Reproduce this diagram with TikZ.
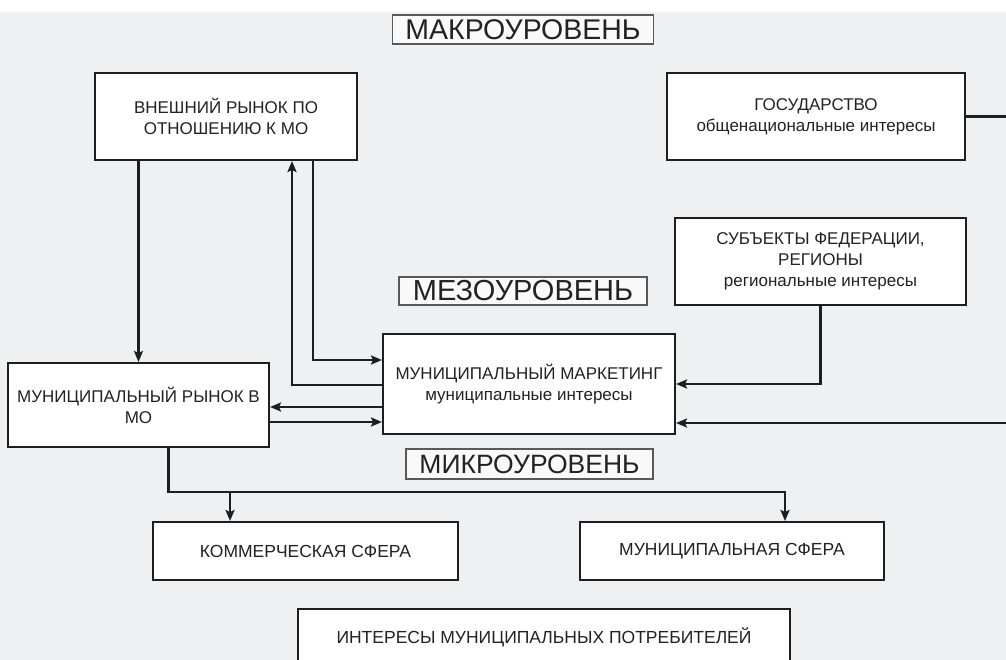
\documentclass[tikz,border=0pt]{standalone}
\usepackage{fontspec}
\setmainfont{Liberation Sans}
\usepackage{xcolor}
\usetikzlibrary{arrows.meta}
\definecolor{fon}{HTML}{EFF0F2}
\definecolor{tekst}{HTML}{222222}
\definecolor{linia}{HTML}{1E1E1E}

\begin{document}
\begin{tikzpicture}[x=1pt,y=-1pt,>={Stealth[length=11pt,width=9pt,inset=2pt]},
mbox/.style={draw=linia,line width=2pt,fill=white,text=tekst,align=center,font=\fontsize{17}{21}\selectfont,inner sep=0pt},
lvl/.style={draw=gray!70!black,line width=1.8pt,fill=gray!5,text=tekst,inner sep=0pt},
con/.style={linia,line width=2.2pt}]
\useasboundingbox(0,0)rectangle(1006,660);
\clip(0,0)rectangle(1006,660);
\fill[fon](0,12)rectangle(1006,660);
\node[lvl,font=\fontsize{28.5}{28}\selectfont,minimum width=261pt,minimum height=29pt](makro)at(523,29.5){МАКРОУРОВЕНЬ};
\node[mbox,minimum width=262pt,minimum height=87pt](vnesh)at(226,116.5){ВНЕШНИЙ РЫНОК ПО\\ОТНОШЕНИЮ К МО};
\node[mbox,minimum width=298pt,minimum height=87pt](gos)at(816,116.5){ГОСУДАРСТВО\\общенациональные интересы};
\node[mbox,minimum width=291pt,minimum height=87pt](subj)at(820.5,261.5){СУБЪЕКТЫ ФЕДЕРАЦИИ,\\РЕГИОНЫ\\региональные интересы};
\node[lvl,font=\fontsize{29}{28}\selectfont,minimum width=248pt,minimum height=28pt](mezo)at(523,291){МЕЗОУРОВЕНЬ};
\node[mbox,minimum width=292pt,minimum height=100pt](mark)at(529,384){МУНИЦИПАЛЬНЫЙ МАРКЕТИНГ\\муниципальные интересы};
\node[mbox,minimum width=261pt,minimum height=84pt](munrynok)at(138.5,405){МУНИЦИПАЛЬНЫЙ РЫНОК В\\МО};
\node[lvl,font=\fontsize{26.5}{28}\selectfont,minimum width=247pt,minimum height=30pt](mikro)at(529.5,464){МИКРОУРОВЕНЬ};
\node[mbox,font=\fontsize{17.5}{21}\selectfont,minimum width=305pt,minimum height=58pt](komm)at(305.5,551){КОММЕРЧЕСКАЯ СФЕРА};
\node[mbox,font=\fontsize{17.5}{21}\selectfont,minimum width=304pt,minimum height=58pt](munsf)at(732,551){МУНИЦИПАЛЬНАЯ СФЕРА};
\node[mbox,font=\fontsize{17.5}{21}\selectfont,minimum width=492pt,minimum height=57pt](inter)at(544,637.5){ИНТЕРЕСЫ МУНИЦИПАЛЬНЫХ ПОТРЕБИТЕЛЕЙ};
\coordinate(m1)at([yshift=-2pt]munrynok.east);
\coordinate(m2)at([yshift=-17pt]munrynok.east);
\coordinate(r1)at(1010,423);
\coordinate(r2)at(1010,116.5);
\coordinate(k1)at([xshift=-75.5pt]komm.north);
\coordinate(s1)at([xshift=53pt]munsf.north);
\draw[con,->](vnesh.south-|munrynok.north)--(munrynok.north);
\draw[con,->]([xshift=87pt]vnesh.south)|-([yshift=24pt]mark.west);
\draw[con,->]([yshift=-1pt]mark.west)-|([xshift=66pt]vnesh.south);
\draw[con,->](m1-|mark.west)--(m1);
\draw[con,->](m2)--(m2-|mark.west);
\draw[con,->](subj.south)|-(mark.east);
\draw[con,->](r1)--(r1-|mark.east);
\draw[con](gos.east)--(r2);
\draw[con,->]([xshift=30pt]munrynok.south)|-([yshift=29pt]s1)--(s1);
\draw[con,->]([yshift=29pt]k1)--(k1);
\end{tikzpicture}
\end{document}
